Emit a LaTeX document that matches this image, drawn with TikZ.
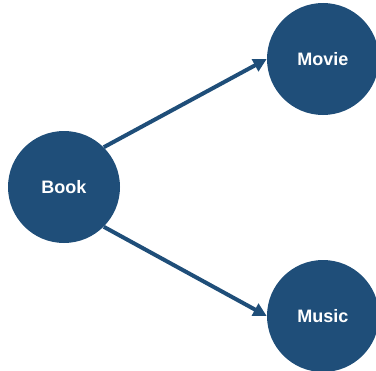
\documentclass[tikz,border=0pt]{standalone}
\usepackage{fontspec}
\setmainfont{Liberation Sans}
\usetikzlibrary{arrows.meta}
\definecolor{topicblue}{RGB}{31,78,121}
\tikzstyle{topic}=[circle, fill=topicblue, draw=none, inner sep=0, minimum size=84pt,
                   text=white, font=\bfseries\fontsize{13.5}{15}\selectfont]
\tikzstyle{link}=[draw=topicblue, line width=3pt, -{Triangle[length=10pt, width=10pt]}]
\tikzstyle{topicmap}=[x=0.75pt, y=-0.75pt]
\begin{document}
\begin{tikzpicture}[topicmap]
    \useasboundingbox (0, 0) rectangle (376, 371);
    \node[topic] (book) at (64, 187) {Book};
    \node[topic] (movie) at (323, 59) {Movie};
    \node[topic] (music) at (323, 316) {Music};
    \draw[link] (book.45) -- (movie.west);
    \draw[link] (book.-45) -- (music.west);
\end{tikzpicture}
\end{document}
